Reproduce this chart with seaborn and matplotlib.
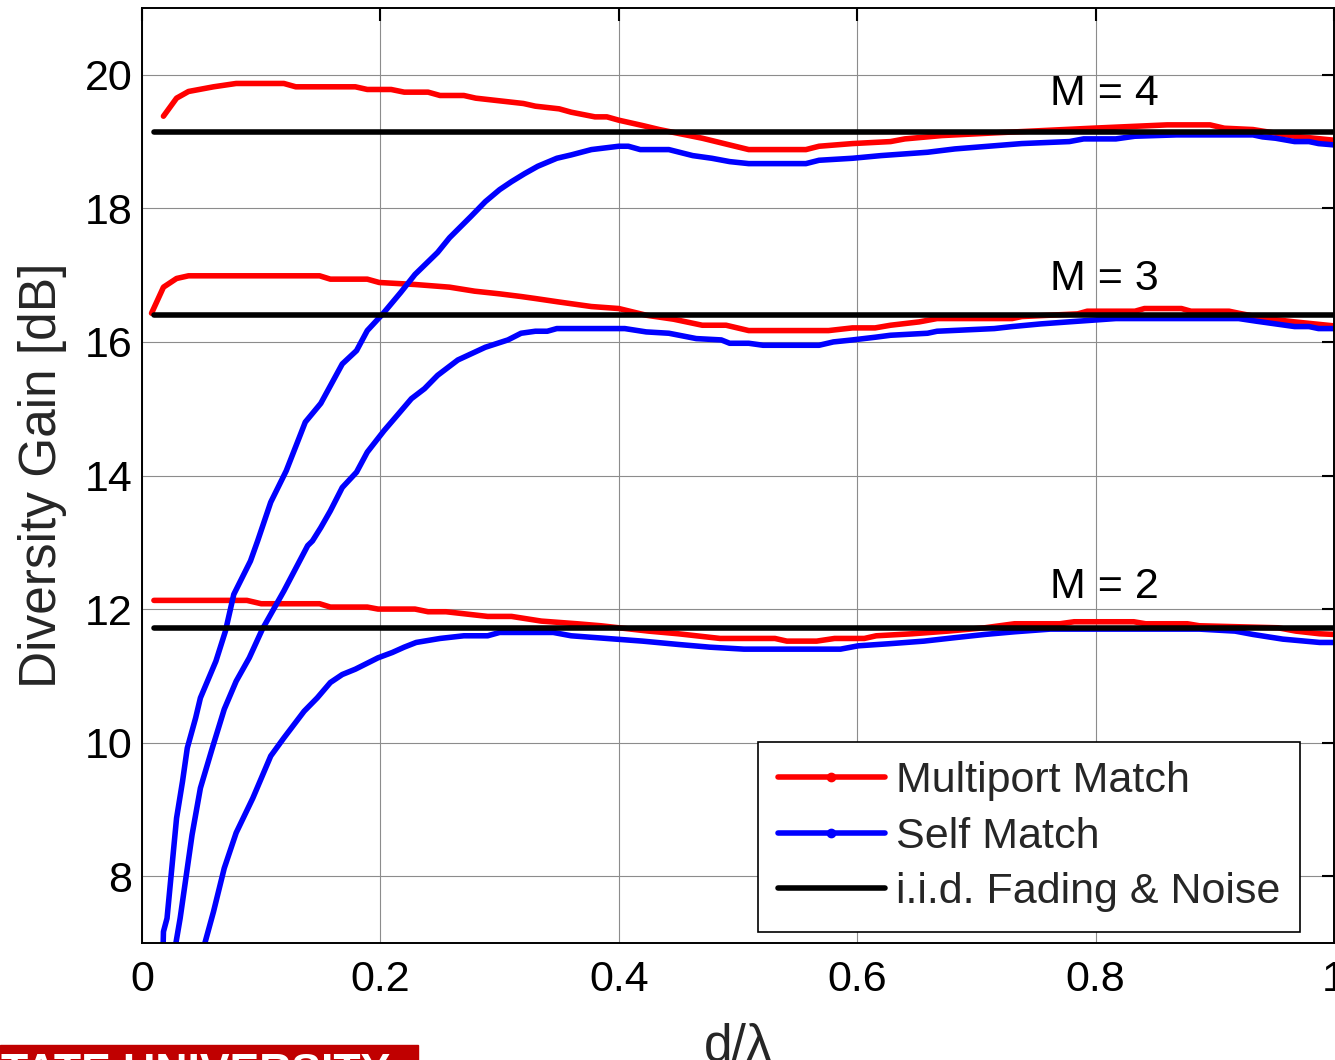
import matplotlib
matplotlib.use("Agg")
import matplotlib.pyplot as plt
from matplotlib.lines import Line2D
from matplotlib.patches import Rectangle
import seaborn as sns
import numpy as np

# ---------------- data ----------------
mp4_x = [0.018, 0.029, 0.039, 0.06, 0.079, 0.119, 0.129, 0.179, 0.189, 0.209, 0.22, 0.24, 0.25, 0.27,
         0.28, 0.30, 0.32, 0.33, 0.35, 0.36, 0.38, 0.39, 0.40, 0.42, 0.434, 0.47, 0.509, 0.557, 0.568,
         0.596, 0.628, 0.64, 0.671, 0.715, 0.797, 0.86, 0.896, 0.908, 0.932, 0.967, 1.0]
mp4_y = [19.38, 19.65, 19.75, 19.82, 19.87, 19.87, 19.82, 19.82, 19.78, 19.78, 19.74, 19.74, 19.69, 19.69,
         19.65, 19.61, 19.57, 19.53, 19.49, 19.44, 19.37, 19.37, 19.32, 19.24, 19.18, 19.05, 18.88, 18.88, 18.93,
         18.97, 19.0, 19.04, 19.09, 19.13, 19.2, 19.25, 19.25, 19.2, 19.18, 19.08, 19.02]

sm4_x = [0.0175, 0.018, 0.021, 0.025, 0.029, 0.034, 0.038, 0.045, 0.049, 0.062, 0.07, 0.077, 0.091, 0.097,
         0.108, 0.121, 0.137, 0.15, 0.168, 0.18, 0.189, 0.202, 0.217, 0.229, 0.248, 0.258, 0.276, 0.288,
         0.30, 0.31, 0.321, 0.332, 0.348, 0.36, 0.377, 0.40, 0.408, 0.418, 0.442, 0.462, 0.478, 0.493,
         0.509, 0.557, 0.568, 0.596, 0.62, 0.659, 0.682, 0.71, 0.738, 0.778, 0.79, 0.817, 0.833, 0.868,
         0.932, 0.94, 0.951, 0.967, 0.979, 0.987, 1.0]
sm4_y = [6.8, 7.17, 7.37, 8.12, 8.87, 9.42, 9.92, 10.37, 10.67, 11.22, 11.67, 12.22, 12.72, 13.02,
         13.6, 14.07, 14.8, 15.08, 15.67, 15.87, 16.17, 16.42, 16.74, 17.01, 17.34, 17.56, 17.88, 18.1,
         18.28, 18.4, 18.52, 18.63, 18.75, 18.8, 18.88, 18.93, 18.93, 18.88, 18.88, 18.79, 18.75, 18.7,
         18.67, 18.67, 18.72, 18.75, 18.79, 18.84, 18.89, 18.93, 18.97, 19.0, 19.04, 19.04, 19.08, 19.1,
         19.1, 19.07, 19.05, 19.0, 19.0, 18.97, 18.95]

mp3_x = [0.008, 0.018, 0.029, 0.039, 0.149, 0.158, 0.189, 0.199, 0.229, 0.258, 0.279, 0.3, 0.318, 0.33,
         0.349, 0.377, 0.4, 0.423, 0.446, 0.47, 0.49, 0.509, 0.576, 0.596, 0.615, 0.628, 0.652, 0.667,
         0.73, 0.738, 0.785, 0.793, 0.833, 0.841, 0.872, 0.88, 0.912, 0.92, 0.943, 0.967, 1.0]
mp3_y = [16.43, 16.82, 16.95, 16.99, 16.99, 16.94, 16.94, 16.89, 16.86, 16.82, 16.76, 16.72, 16.68, 16.65,
         16.6, 16.53, 16.5, 16.4, 16.34, 16.25, 16.25, 16.17, 16.17, 16.21, 16.21, 16.25, 16.3, 16.35,
         16.35, 16.38, 16.42, 16.46, 16.46, 16.5, 16.5, 16.46, 16.46, 16.43, 16.35, 16.3, 16.24]

sm3_x = [0.0275, 0.032, 0.038, 0.042, 0.049, 0.059, 0.069, 0.079, 0.09, 0.101, 0.119, 0.139, 0.143, 0.15,
         0.158, 0.168, 0.18, 0.189, 0.203, 0.215, 0.226, 0.237, 0.248, 0.265, 0.288, 0.307, 0.318, 0.33,
         0.34, 0.348, 0.405, 0.423, 0.442, 0.465, 0.486, 0.493, 0.509, 0.521, 0.568, 0.58, 0.596, 0.615,
         0.628, 0.659, 0.667, 0.715, 0.73, 0.754, 0.785, 0.817, 0.92, 0.935, 0.951, 0.967, 0.979, 0.987, 1.0]
sm3_y = [6.9, 7.37, 8.12, 8.62, 9.32, 9.92, 10.5, 10.92, 11.27, 11.7, 12.27, 12.95, 13.02, 13.22,
         13.47, 13.82, 14.05, 14.35, 14.67, 14.92, 15.15, 15.3, 15.5, 15.73, 15.92, 16.03, 16.13, 16.16,
         16.16, 16.2, 16.2, 16.15, 16.13, 16.05, 16.03, 15.98, 15.98, 15.95, 15.95, 16.0, 16.03, 16.07,
         16.1, 16.13, 16.16, 16.2, 16.23, 16.27, 16.31, 16.35, 16.35, 16.31, 16.27, 16.23, 16.23, 16.2, 16.2]

mp2_x = [0.01, 0.088, 0.1, 0.149, 0.158, 0.189, 0.198, 0.229, 0.24, 0.255, 0.275, 0.29, 0.31, 0.335,
         0.365, 0.385, 0.4, 0.425, 0.45, 0.465, 0.485, 0.531, 0.541, 0.566, 0.581, 0.606, 0.616, 0.646,
         0.676, 0.707, 0.732, 0.77, 0.782, 0.832, 0.842, 0.877, 0.887, 0.953, 0.968, 0.988, 1.0]
mp2_y = [12.13, 12.13, 12.08, 12.08, 12.03, 12.03, 12.0, 12.0, 11.96, 11.96, 11.92, 11.89, 11.89, 11.82,
         11.78, 11.75, 11.72, 11.67, 11.63, 11.6, 11.56, 11.56, 11.52, 11.52, 11.56, 11.56, 11.6, 11.63,
         11.67, 11.72, 11.78, 11.78, 11.81, 11.81, 11.78, 11.78, 11.75, 11.72, 11.67, 11.63, 11.62]

sm2_x = [0.05, 0.052, 0.06, 0.069, 0.079, 0.093, 0.108, 0.119, 0.136, 0.147, 0.158, 0.168, 0.179, 0.198,
         0.21, 0.22, 0.23, 0.25, 0.27, 0.29, 0.30, 0.345, 0.36, 0.39, 0.42, 0.45, 0.476, 0.505, 0.586,
         0.601, 0.626, 0.656, 0.681, 0.707, 0.732, 0.762, 0.887, 0.917, 0.932, 0.957, 0.988, 1.0]
sm2_y = [6.8, 6.95, 7.47, 8.12, 8.65, 9.17, 9.8, 10.07, 10.47, 10.67, 10.9, 11.02, 11.1, 11.27,
         11.35, 11.43, 11.5, 11.56, 11.6, 11.6, 11.65, 11.65, 11.6, 11.56, 11.52, 11.47, 11.43, 11.4, 11.4,
         11.45, 11.48, 11.52, 11.57, 11.62, 11.66, 11.7, 11.7, 11.67, 11.62, 11.55, 11.5, 11.5]

iid_x = [0.01, 1.0]
iid_levels = [19.15, 16.41, 11.72]

m_labels = ["M = 4", "M = 3", "M = 2"]
m_label_x = [0.762, 0.762, 0.762]
m_label_y = [19.55, 16.78, 12.17]

legend_labels = ["Multiport Match", "Self Match", "i.i.d. Fading & Noise"]
x_ticks = [0, 0.2, 0.4, 0.6, 0.8, 1]
x_ticklabels = ["0", "0.2", "0.4", "0.6", "0.8", "1"]
y_ticks = [8, 10, 12, 14, 16, 18, 20]

# ---------------- style ----------------
sns.set_style("white")
plt.rcParams["font.family"] = ["Liberation Sans", "DejaVu Sans"]

fig = plt.figure(figsize=(13.35, 10.6), dpi=100)
ax = fig.add_axes([142 / 1335, 1 - 943 / 1060, 1192 / 1335, 935 / 1060])

LW = 4.0
for xs, ys in [(mp4_x, mp4_y), (mp3_x, mp3_y), (mp2_x, mp2_y)]:
    sns.lineplot(x=xs, y=ys, color="#ff0000", lw=LW, ax=ax, sort=False, estimator=None)
for xs, ys in [(sm4_x, sm4_y), (sm3_x, sm3_y), (sm2_x, sm2_y)]:
    sns.lineplot(x=xs, y=ys, color="#0000ff", lw=LW, ax=ax, sort=False, estimator=None)
for lev in iid_levels:
    sns.lineplot(x=iid_x, y=[lev, lev], color="black", lw=LW, ax=ax, sort=False, estimator=None)

for t, tx, ty in zip(m_labels, m_label_x, m_label_y):
    ax.text(tx, ty, t, fontsize=31, ha="left", va="baseline", color="black")

ax.set_xlim(0, 1)
ax.set_ylim(7, 21)
ax.set_xticks(x_ticks)
ax.set_xticklabels(x_ticklabels)
ax.set_yticks(y_ticks)
ax.grid(True, color="0.55", lw=0.8)
ax.set_axisbelow(True)
for s in ax.spines.values():
    s.set_color("black")
    s.set_linewidth(1.4)
    s.set_visible(True)
ax.tick_params(direction="in", length=9, width=1.5, top=True, right=True,
               labelsize=31, colors="black")
ax.tick_params(axis="x", pad=12)
ax.tick_params(axis="y", pad=7)

ax.set_xlabel("d/λ", fontsize=37)
ax.set_ylabel("Diversity Gain [dB]", fontsize=37)
ax.xaxis.set_label_coords(0.5, -0.085)
ax.yaxis.set_label_coords(-0.063, 0.5)

handles = [
    Line2D([], [], color="#ff0000", lw=LW, marker="o", markersize=6),
    Line2D([], [], color="#0000ff", lw=LW, marker="o", markersize=6),
    Line2D([], [], color="black", lw=LW),
]
leg = ax.legend(handles, legend_labels, loc="upper left", bbox_to_anchor=(0.517, 0.215),
                borderaxespad=0, fontsize=31, frameon=True, fancybox=False, framealpha=1,
                edgecolor="black", handlelength=2.5, handletextpad=0.25, labelspacing=0.36,
                borderpad=0.45)
leg.get_frame().set_linewidth(1.2)

# logo strip at bottom left (cut off in the reference)
fig.patches.append(Rectangle((0, 0), 418 / 1335, 15 / 1060, transform=fig.transFigure,
                             color="#c00000", zorder=5))
fig.text(390 / 1335, 1 - 1053 / 1060, "TATE UNIVERSITY", color="white", fontsize=32,
         fontweight="bold", ha="right", va="top", zorder=6)

fig.savefig("out.png", dpi=100)
